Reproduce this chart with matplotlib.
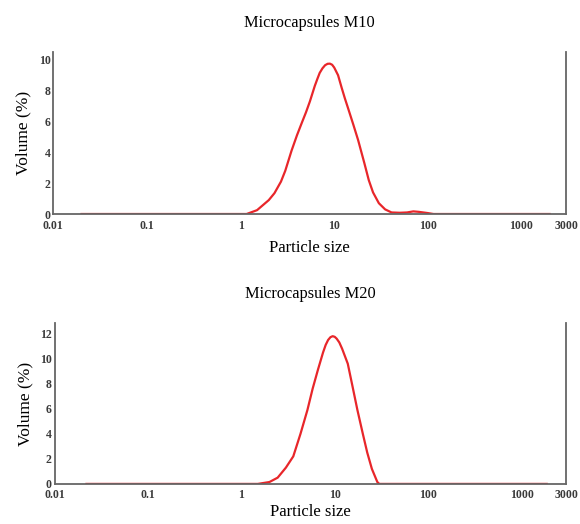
import matplotlib
matplotlib.use("Agg")
import matplotlib.pyplot as plt

plt.rcParams['font.family'] = ['Liberation Serif', 'DejaVu Serif']

# Datos
titulos = ["Microcapsules M10", "Microcapsules M20"]
ticks_x = [0.01, 0.1, 1, 10, 100, 1000, 3000]
etiquetas_x = ["0.01", "0.1", "1", "10", "100", "1000", "3000"]

size_m10 = [0.02, 1.0, 1.16, 1.5, 2.0, 2.3, 2.7, 3.0, 3.5, 4.0, 4.5, 5.0, 5.5, 6.2, 6.6, 7.0,
            7.5, 8.0, 8.5, 9.0, 9.5, 10, 11, 12, 13, 14, 16, 18, 21, 23.4, 26, 30, 35, 41, 50, 60,
            70, 80, 100, 115, 2000]
vol_m10 = [0, 0, 0, 0.25, 0.9, 1.35, 2.1, 2.8, 4.1, 5.1, 5.9, 6.6, 7.3, 8.3, 8.75, 9.15,
           9.45, 9.65, 9.74, 9.75, 9.68, 9.5, 9.0, 8.2, 7.5, 6.9, 5.8, 4.8, 3.3, 2.2, 1.4, 0.7, 0.3, 0.1, 0.08, 0.1,
           0.17, 0.14, 0.06, 0, 0]

size_m20 = [0.022, 1.5, 2.0, 2.45, 3.0, 3.6, 4.3, 5.1, 5.8, 6.6, 7.5, 8.0, 8.5, 9.0, 9.5, 10.0,
            10.5, 11.2, 12, 13.8, 15.5, 17.5, 20, 22.3, 25, 28.6, 30, 1860]
vol_m20 = [0, 0, 0.15, 0.5, 1.3, 2.2, 4.0, 5.9, 7.6, 9.1, 10.5, 11.1, 11.5, 11.72, 11.8, 11.75,
           11.6, 11.3, 10.8, 9.6, 7.8, 5.9, 4.0, 2.5, 1.2, 0.15, 0, 0]

ticks_y = [[0, 2, 4, 6, 8, 10], [0, 2, 4, 6, 8, 10, 12]]
ylims = [10.5, 12.85]
pads_x = [6, 2]

fig = plt.figure(figsize=(5.8, 5.24), dpi=100)
ax1 = fig.add_axes([0.092, 0.5916, 0.884, 0.309])
ax2 = fig.add_axes([0.094, 0.0765, 0.882, 0.307])

for ax, titulo, x, y, yt, ymax, pad in zip([ax1, ax2], titulos, [size_m10, size_m20],
                                          [vol_m10, vol_m20], ticks_y, ylims, pads_x):
    ax.plot(x, y, color="#e8262a", lw=1.6)
    ax.set_xscale("log")
    ax.set_xlim(0.01, 3000)
    ax.set_ylim(0, ymax)
    ax.set_xticks(ticks_x)
    ax.set_xticklabels(etiquetas_x)
    ax.minorticks_off()
    ax.set_yticks(yt)
    ax.tick_params(length=0, labelsize=8.5, labelcolor="#3a3a3a")
    ax.tick_params(axis="x", pad=4)
    ax.tick_params(axis="y", pad=2)
    for t in ax.get_xticklabels() + ax.get_yticklabels():
        t.set_fontweight("bold")
    ax.spines["top"].set_visible(False)
    for s in ["left", "right", "bottom"]:
        ax.spines[s].set_color("#666666")
        ax.spines[s].set_linewidth(1.3)
    ax.set_title(titulo, fontsize=11.8, pad=18)
    ax.set_xlabel("Particle size", fontsize=12, labelpad=pad)
    ax.set_ylabel("Volume (%)", fontsize=12.5, labelpad=5)

fig.savefig("out.png", dpi=100)
